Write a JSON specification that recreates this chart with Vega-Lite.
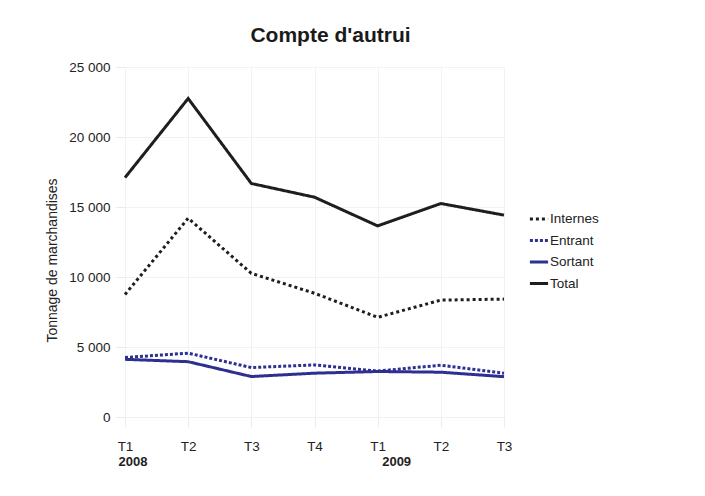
{
  "$schema": "https://vega.github.io/schema/vega-lite/v6.json",
  "width": 379,
  "height": 350,
  "autosize": "none",
  "padding": {"left": 125, "top": 67, "right": 201, "bottom": 79},
  "background": "white",
  "title": {
    "text": "Compte d'autrui",
    "fontSize": 21,
    "fontWeight": "bold",
    "color": "#1a1a1a",
    "anchor": "middle",
    "frame": "group",
    "baseline": "alphabetic",
    "dx": 16,
    "offset": -3
  },
  "data": {
    "values": [
      {"periode": "2008-T1", "serie": "Internes", "tonnage": 8750},
      {"periode": "2008-T2", "serie": "Internes", "tonnage": 14200},
      {"periode": "2008-T3", "serie": "Internes", "tonnage": 10260},
      {"periode": "2008-T4", "serie": "Internes", "tonnage": 8840},
      {"periode": "2009-T1", "serie": "Internes", "tonnage": 7120},
      {"periode": "2009-T2", "serie": "Internes", "tonnage": 8350},
      {"periode": "2009-T3", "serie": "Internes", "tonnage": 8420},
      {"periode": "2008-T1", "serie": "Entrant", "tonnage": 4250},
      {"periode": "2008-T2", "serie": "Entrant", "tonnage": 4560},
      {"periode": "2008-T3", "serie": "Entrant", "tonnage": 3530},
      {"periode": "2008-T4", "serie": "Entrant", "tonnage": 3720},
      {"periode": "2009-T1", "serie": "Entrant", "tonnage": 3280},
      {"periode": "2009-T2", "serie": "Entrant", "tonnage": 3700},
      {"periode": "2009-T3", "serie": "Entrant", "tonnage": 3130},
      {"periode": "2008-T1", "serie": "Sortant", "tonnage": 4120},
      {"periode": "2008-T2", "serie": "Sortant", "tonnage": 3950},
      {"periode": "2008-T3", "serie": "Sortant", "tonnage": 2890},
      {"periode": "2008-T4", "serie": "Sortant", "tonnage": 3130},
      {"periode": "2009-T1", "serie": "Sortant", "tonnage": 3250},
      {"periode": "2009-T2", "serie": "Sortant", "tonnage": 3200},
      {"periode": "2009-T3", "serie": "Sortant", "tonnage": 2880},
      {"periode": "2008-T1", "serie": "Total", "tonnage": 17100},
      {"periode": "2008-T2", "serie": "Total", "tonnage": 22750},
      {"periode": "2008-T3", "serie": "Total", "tonnage": 16680},
      {"periode": "2008-T4", "serie": "Total", "tonnage": 15700},
      {"periode": "2009-T1", "serie": "Total", "tonnage": 13650},
      {"periode": "2009-T2", "serie": "Total", "tonnage": 15250},
      {"periode": "2009-T3", "serie": "Total", "tonnage": 14420}
    ]
  },
  "encoding": {
    "y": {
      "field": "tonnage",
      "type": "quantitative",
      "scale": {"domain": [0, 25000], "nice": false},
      "axis": {
        "title": "Tonnage de marchandises",
        "values": [0, 5000, 10000, 15000, 20000, 25000],
        "labelExpr": "replace(format(datum.value, ','), ',', ' ')",
        "domain": false,
        "tickSize": 10,
        "tickColor": "#ececec",
        "gridColor": "#f2f2f2",
        "labelPadding": 5,
        "labelFontSize": 13.5,
        "labelColor": "#222222",
        "titleFontSize": 14,
        "titleFontWeight": "normal",
        "titleColor": "#222222",
        "titleBaseline": "alphabetic",
        "titleX": -69,
        "titleY": 193
      }
    },
    "color": {
      "field": "serie",
      "type": "nominal",
      "scale": {
        "domain": ["Internes", "Entrant", "Sortant", "Total"],
        "range": ["#1e1e1e", "#2d2f92", "#2d2f92", "#1e1e1e"]
      },
      "legend": {"title": null, "orient": "none", "legendX": 403, "legendY": 141}
    },
    "strokeDash": {
      "field": "serie",
      "type": "nominal",
      "scale": {
        "domain": ["Internes", "Entrant", "Sortant", "Total"],
        "range": [[3, 3], [3, 2], [1, 0], [1, 0]]
      },
      "legend": {"title": null, "orient": "none", "legendX": 403, "legendY": 141}
    },
    "strokeWidth": {
      "field": "serie",
      "type": "nominal",
      "scale": {
        "domain": ["Internes", "Entrant", "Sortant", "Total"],
        "range": [3, 3, 4, 3.5]
      },
      "legend": {"title": null, "orient": "none", "legendX": 403, "legendY": 141}
    }
  },
  "layer": [
    {
      "transform": [{"filter": "datum.serie == 'Internes' || datum.serie == 'Entrant'"}],
      "mark": {"type": "line", "strokeCap": "butt", "strokeJoin": "miter"},
      "encoding": {
        "x": {
          "field": "periode",
          "type": "ordinal",
          "sort": ["2008-T1", "2008-T2", "2008-T3", "2008-T4", "2009-T1", "2009-T2", "2009-T3"],
          "scale": {"type": "point", "padding": 0},
          "axis": {
            "title": null,
            "labelExpr": "split(datum.value, '-')[1]",
            "labelAngle": 0,
            "domain": false,
            "tickSize": 10,
            "tickColor": "#ececec",
            "grid": true,
            "gridColor": "#f2f2f2",
            "labelPadding": 12,
            "labelFontSize": 13.5,
            "labelColor": "#222222"
          }
        }
      }
    },
    {
      "transform": [{"filter": "datum.serie == 'Sortant' || datum.serie == 'Total'"}],
      "mark": {"type": "line", "strokeCap": "butt", "strokeJoin": "miter"},
      "encoding": {
        "x": {
          "field": "periode",
          "type": "ordinal",
          "sort": ["2008-T1", "2008-T2", "2008-T3", "2008-T4", "2009-T1", "2009-T2", "2009-T3"],
          "scale": {"type": "point", "padding": 0},
          "axis": {
            "title": null,
            "orient": "bottom",
            "labelExpr": "datum.value == '2008-T1' ? '2008' : datum.value == '2009-T1' ? '2009' : ''",
            "labelAngle": 0,
            "labelAlign": "left",
            "labelOverlap": false,
            "labelOffset": {"expr": "datum.value == '2008-T1' ? -7 : 4"},
            "domain": false,
            "ticks": false,
            "grid": false,
            "labelPadding": 38,
            "labelFontSize": 13,
            "labelFontWeight": "bold",
            "labelColor": "#222222"
          }
        }
      }
    }
  ],
  "resolve": {"axis": {"x": "independent"}},
  "config": {
    "font": "Liberation Sans, Arial, sans-serif",
    "view": {"stroke": null},
    "legend": {
      "symbolType": "stroke",
      "symbolSize": 330,
      "labelFontSize": 13.5,
      "labelColor": "#222222",
      "labelOffset": 0,
      "rowPadding": 3.5
    }
  }
}
